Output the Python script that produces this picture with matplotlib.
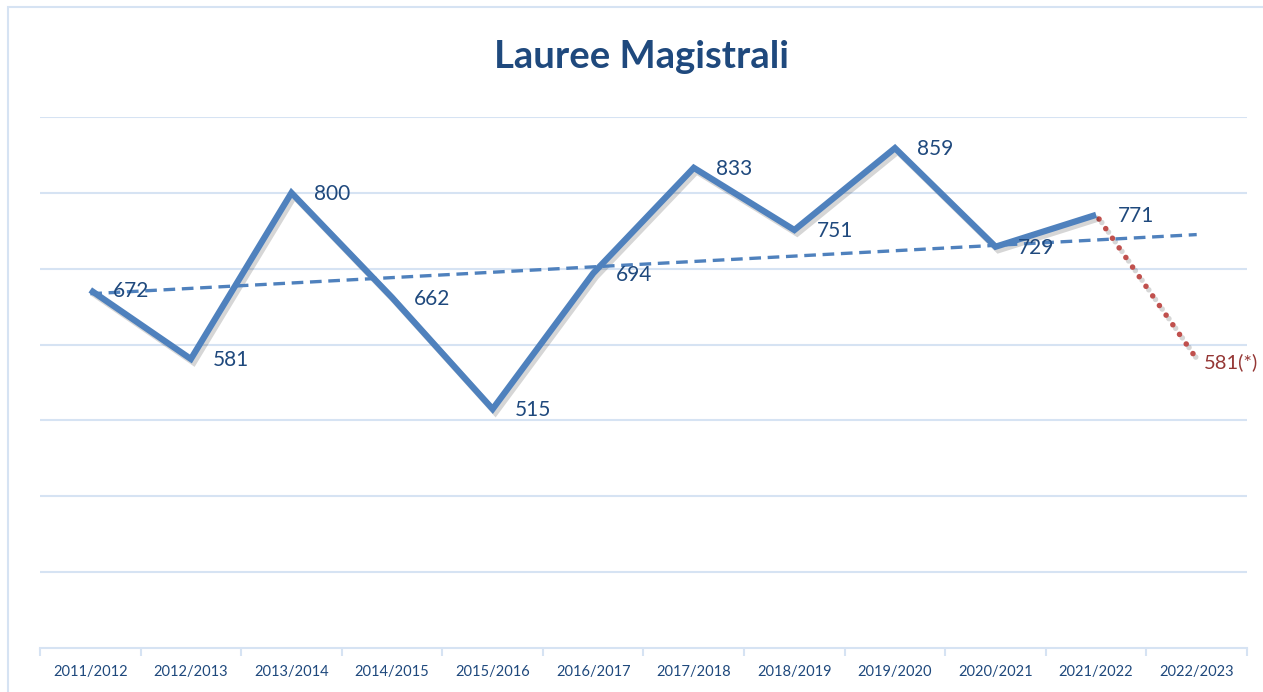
import matplotlib.pyplot as plt
import matplotlib.patheffects as pe
from matplotlib.patches import Rectangle

# data
anni = ['2011/2012', '2012/2013', '2013/2014', '2014/2015', '2015/2016', '2016/2017',
        '2017/2018', '2018/2019', '2019/2020', '2020/2021', '2021/2022', '2022/2023']
laureati = [672, 581, 800, 662, 515, 694, 833, 751, 859, 729, 771]
stima = [771, 581]          # 2021/2022 -> 2022/2023 (estimate)
trend = [667, 745]          # trendline at first and last category

blue = '#4F81BD'
dark_blue = '#1F497D'
red = '#C0504D'
grid_col = '#D6E3F3'

plt.rcParams['font.family'] = ['Lato', 'DejaVu Sans']

fig = plt.figure(figsize=(12.63, 6.92), dpi=100)
# chart area border
fig.patches.append(Rectangle((8 / 1263, -0.01), 1.1, 1 - 7 / 692 + 0.01, transform=fig.transFigure,
                             fill=False, edgecolor=grid_col, linewidth=1.5))

ax = fig.add_axes([40 / 1263, 1 - 648 / 692, 1207 / 1263, (648 - 117) / 692])
x = list(range(len(anni)))

shadow = [pe.SimpleLineShadow(offset=(2, -2.5), shadow_color='black', alpha=0.16), pe.Normal()]

ax.plot(x[:len(laureati)], laureati, color=blue, linewidth=4.5, solid_joinstyle='miter',
        solid_capstyle='butt', zorder=4, path_effects=shadow)
ax.plot([x[-2], x[-1]], stima, color=red, linewidth=4, linestyle=(1.2, (0.01, 2.1)),
        dash_capstyle='round', zorder=3, path_effects=shadow)
ax.plot([x[0], x[-1]], trend, color=blue, linewidth=2.4, linestyle=(0, (3.5, 2)), zorder=5)

for i, v in enumerate(laureati):
    ax.annotate(str(v), (i, v), xytext=(16, -1), textcoords='offset points', ha='left', va='center',
                fontsize=15, color=dark_blue, zorder=6)
ax.annotate('581(*)', (x[-1], stima[1]), xytext=(5, -2), textcoords='offset points', ha='left',
            va='center', fontsize=14.5, color='#953735', annotation_clip=False, clip_on=False)

ax.set_xlim(-0.5, len(anni) - 0.5)
ax.set_ylim(200, 900)
ax.set_yticks(range(300, 901, 100))
ax.yaxis.grid(True, color=grid_col, linewidth=1.5)
ax.tick_params(axis='y', left=False, labelleft=False)
ax.set_axisbelow(True)

ax.set_xticks(x)
ax.set_xticklabels(anni, fontsize=10.5, color=dark_blue)
ax.set_xticks([i - 0.5 for i in range(len(anni) + 1)], minor=True)
ax.tick_params(axis='x', which='major', length=0, pad=12)
ax.tick_params(axis='x', which='minor', length=6, color=grid_col, width=1.5)

for s in ['top', 'left', 'right']:
    ax.spines[s].set_visible(False)
ax.spines['bottom'].set_color(grid_col)
ax.spines['bottom'].set_linewidth(1.5)

fig.text(642 / 1263, 1 - 57 / 692, 'Lauree Magistrali', ha='center', va='center',
         fontsize=27.5, fontweight='bold', color=dark_blue)

fig.savefig('out.png', dpi=100)
